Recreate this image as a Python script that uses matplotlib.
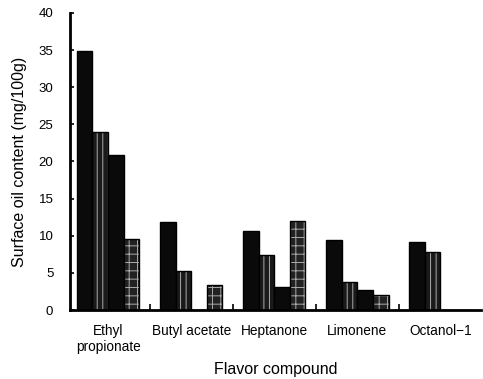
import matplotlib.pyplot as plt
import numpy as np

plt.rcParams['font.family'] = ['Liberation Sans', 'DejaVu Sans']
plt.rcParams['hatch.linewidth'] = 0.7

compounds = ['Ethyl\npropionate', 'Butyl acetate', 'Heptanone', 'Limonene', 'Octanol\u22121']
series_1 = [34.9, 11.9, 10.6, 9.4, 9.2]
series_2 = [24.0, 5.3, 7.4, 3.8, 7.8]
series_3 = [20.9, 0.0, 3.1, 2.7, 0.0]
series_4 = [9.6, 3.4, 12.0, 2.0, 0.0]

fig = plt.figure(figsize=(4.83, 3.79), dpi=100)
ax = fig.add_axes([0.145, 0.182, 0.851, 0.784])

x = np.arange(len(compounds))
w = 0.188
styles = [('#0a0a0a', None), ('#1a1a1a', '|||'), ('#0a0a0a', None), ('#222222', '++')]
for i, (vals, (fc, hatch)) in enumerate(zip([series_1, series_2, series_3, series_4], styles)):
    pos = x + (i - 1.5) * w
    if hatch:
        ax.bar(pos, vals, w, color=fc, edgecolor='#aaaaaa', hatch=hatch, linewidth=0)
        ax.bar(pos, vals, w, fill=False, edgecolor='black', linewidth=1)
    else:
        ax.bar(pos, vals, w, color=fc, edgecolor='black', linewidth=1)

ax.set_xlim(-0.458, 4.49)
ax.set_ylim(0, 40)
ax.set_yticks(range(0, 41, 5))
ax.set_xticks(x)
ax.set_xticklabels(compounds, fontsize=9.8)
ax.set_xticks(x[:-1] + 0.5, minor=True)
ax.tick_params(axis='x', which='major', length=0, pad=10)
ax.tick_params(axis='x', which='minor', direction='in', length=4, width=1.2)
ax.tick_params(axis='y', direction='in', length=3, width=1.2, labelsize=9.5, pad=12)

for s in ['top', 'right']:
    ax.spines[s].set_visible(False)
for s in ['left', 'bottom']:
    ax.spines[s].set_linewidth(2)

ax.set_ylabel('Surface oil content (mg/100g)', fontsize=11.5, labelpad=8)
ax.set_xlabel('Flavor compound', fontsize=11.5, labelpad=6)

fig.savefig('out.png', dpi=100)
